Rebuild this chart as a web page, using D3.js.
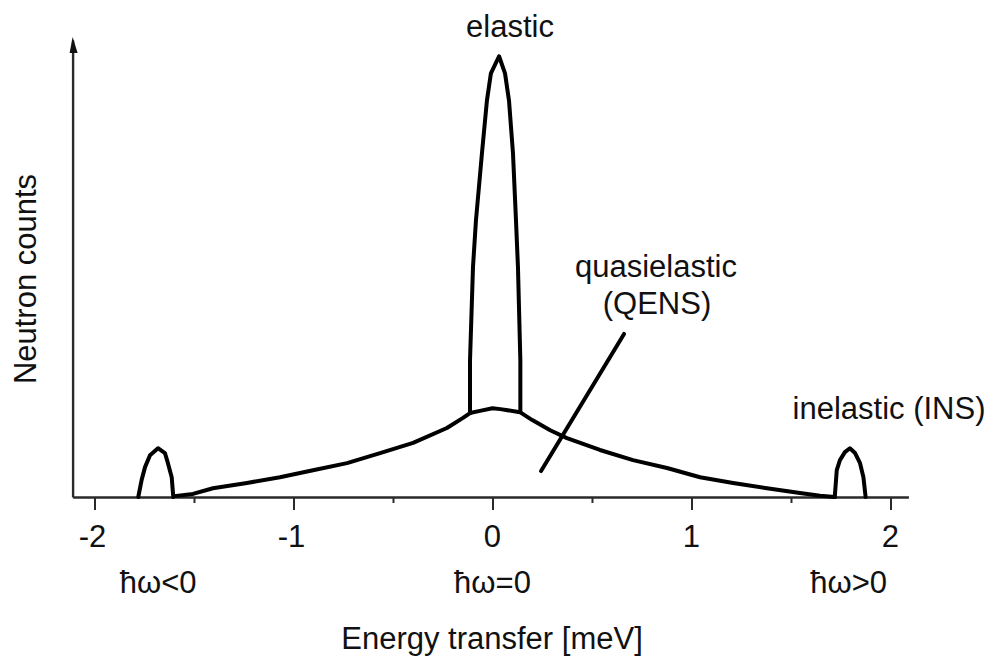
<!DOCTYPE html>
<html>
<head>
<meta charset="utf-8">
<script src="https://cdn.jsdelivr.net/npm/d3@7"></script>
<style>
  html, body { margin: 0; padding: 0; background: #fff; }
  svg text { font-family: Arial, "Liberation Sans", sans-serif; fill: #111; }
</style>
</head>
<body>
<svg id="chart" width="988" height="656"></svg>
<script>
// ---- data (energy transfer in meV, counts in arbitrary units) ----
const majorTicks = [-2, -1, 0, 1, 2];
const minorTicks = [-1.5, -0.5, 0.5, 1.5];

const qensE = [-1.60, -1.505, -1.405, -1.234, -1.068, -0.902, -0.731, -0.565, -0.399, -0.229, -0.148, -0.113, -0.063, 0.0, 0.04, 0.138, 0.20, 0.29, 0.374, 0.54, 0.706, 0.877, 1.043, 1.209, 1.379, 1.545, 1.646, 1.72];
const qensC = [0.2, 0.7, 2.0, 3.2, 4.5, 6.1, 7.7, 10.0, 12.3, 15.7, 18.0, 19.1, 19.6, 20.2, 20.0, 19.3, 17.5, 15.2, 13.4, 10.7, 8.4, 6.6, 4.5, 3.2, 2.0, 0.9, 0.3, 0.0];

const elasticE = [-0.113, -0.113, -0.098, -0.083, -0.053, -0.028, -0.008, 0.033, 0.063, 0.083, 0.103, 0.118, 0.128, 0.140, 0.140];
const elasticC = [19.1, 31.1, 52.3, 63.0, 78.2, 90.2, 96.4, 100.3, 96.4, 90.2, 78.2, 63.0, 52.3, 31.1, 19.3];

const insLeftE = [-1.780, -1.763, -1.746, -1.721, -1.681, -1.646, -1.631, -1.612, -1.604, -1.60];
const insLeftC = [0.0, 3.9, 6.8, 9.5, 11.1, 10.0, 7.7, 4.5, 0.0, 0.2];

const insRightE = [1.72, 1.730, 1.746, 1.771, 1.796, 1.822, 1.847, 1.864, 1.875];
const insRightC = [0.0, 6.1, 8.4, 10.2, 11.1, 10.0, 7.7, 4.5, 0.0];

const pointerE = [0.661, 0.244];
const pointerC = [37.1, 5.9];

const regionLabels = ["ħω<0", "ħω=0", "ħω>0"];
const regionE = [-1.68, 0.0, 1.79];

// ---- scales ----
const svg = d3.select("#chart");
const x = d3.scaleLinear().domain([-2.11, 2.09]).range([72.6, 908.4]);
const y = d3.scaleLinear().domain([0, 104]).range([497, 40]);

// ---- axes ----
const axisColor = "#2a2a2a";
const gx = svg.append("g").attr("transform", `translate(0,${y(0)})`)
  .call(d3.axisBottom(x).tickValues(majorTicks).tickSize(13).tickSizeOuter(0).tickFormat(() => ""));
gx.select(".domain").attr("stroke", axisColor).attr("stroke-width", 2.4);
gx.selectAll(".tick line").attr("stroke", axisColor).attr("stroke-width", 2);

const gxm = svg.append("g").attr("transform", `translate(0,${y(0)})`)
  .call(d3.axisBottom(x).tickValues(minorTicks).tickSize(6).tickSizeOuter(0).tickFormat(() => ""));
gxm.select(".domain").remove();
gxm.selectAll(".tick line").attr("stroke", axisColor).attr("stroke-width", 2);

const fs = 31;

svg.append("g").selectAll("text").data(majorTicks).join("text")
  .attr("x", d => x(d) + (d < 0 ? -2 : 0))
  .attr("y", 547)
  .attr("text-anchor", "middle")
  .attr("font-size", fs)
  .text(d => String(d));

const gy = svg.append("g").attr("transform", `translate(${x(-2.11)},0)`)
  .call(d3.axisLeft(y).tickValues([]).tickSizeOuter(0));
gy.select(".domain").attr("stroke", axisColor).attr("stroke-width", 2.4);

// small arrow head on the y axis
const ax = x(-2.11), ay = y(104);
svg.append("path")
  .attr("d", `M${ax},${ay - 3} L${ax + 5},${ay + 13} L${ax - 3},${ay + 13} Z`)
  .attr("fill", "#111");

// ---- curves ----
const line = d3.line().x(d => x(d[0])).y(d => y(d[1])).curve(d3.curveLinear);
const zipPts = (a, b) => a.map((v, i) => [v, b[i]]);

const curveStyle = sel => sel.attr("fill", "none").attr("stroke", "#000")
  .attr("stroke-width", 4).attr("stroke-linejoin", "round").attr("stroke-linecap", "round");

svg.append("path").datum(zipPts(qensE, qensC)).attr("d", line).call(curveStyle);
svg.append("path").datum(zipPts(elasticE, elasticC)).attr("d", line).call(curveStyle);
svg.append("path").datum(zipPts(insLeftE, insLeftC)).attr("d", line).call(curveStyle);
svg.append("path").datum(zipPts(insRightE, insRightC)).attr("d", line).call(curveStyle);
svg.append("path").datum(zipPts(pointerE, pointerC)).attr("d", line).call(curveStyle);

// ---- labels ----
svg.append("text").attr("x", 510).attr("y", 37).attr("text-anchor", "middle").attr("font-size", fs).text("elastic");
svg.append("text").attr("x", 656).attr("y", 277).attr("text-anchor", "middle").attr("font-size", fs).text("quasielastic");
svg.append("text").attr("x", 657).attr("y", 314).attr("text-anchor", "middle").attr("font-size", fs).text("(QENS)");
svg.append("text").attr("x", 889).attr("y", 419).attr("text-anchor", "middle").attr("font-size", fs).text("inelastic (INS)");

svg.append("g").selectAll("text").data(regionLabels).join("text")
  .attr("x", (d, i) => x(regionE[i]))
  .attr("y", 593)
  .attr("text-anchor", "middle")
  .attr("font-size", fs)
  .text(d => d);

svg.append("text").attr("x", 492).attr("y", 649).attr("text-anchor", "middle").attr("font-size", fs)
  .text("Energy transfer [meV]");

svg.append("text").attr("transform", "translate(36,279) rotate(-90)").attr("text-anchor", "middle")
  .attr("font-size", fs).text("Neutron counts");
</script>
</body>
</html>
